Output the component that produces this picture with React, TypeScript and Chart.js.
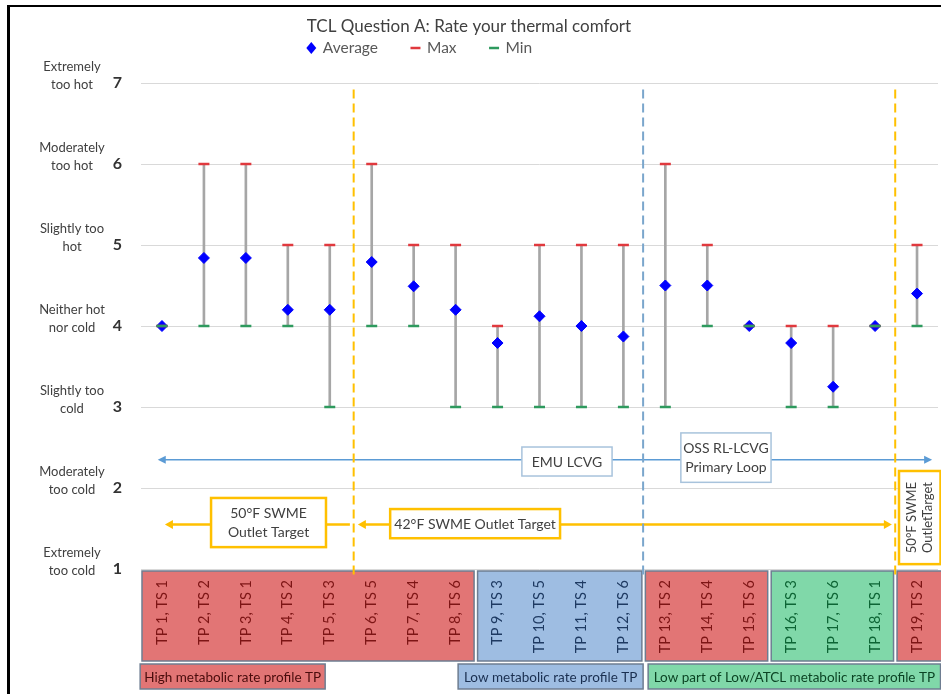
import { useEffect, useRef } from "react";
import { Chart, registerables } from "chart.js";

Chart.register(...registerables);

const FONT = "Lato, 'Noto Sans', 'DejaVu Sans', sans-serif";

const chartTitle = "TCL Question A: Rate your thermal comfort";
const categories = [
  "TP 1, TS 1", "TP 2, TS 2", "TP 3, TS 1", "TP 4, TS 2", "TP 5, TS 3",
  "TP 6, TS 5", "TP 7, TS 4", "TP 8, TS 6", "TP 9, TS 3", "TP 10, TS 5",
  "TP 11, TS 4", "TP 12, TS 6", "TP 13, TS 2", "TP 14, TS 4", "TP 15, TS 6",
  "TP 16, TS 3", "TP 17, TS 6", "TP 18, TS 1", "TP 19, TS 2",
];
const averageValues = [4.0, 4.84, 4.84, 4.2, 4.2, 4.79, 4.49, 4.2, 3.79, 4.12, 4.0, 3.87, 4.5, 4.5, 4.0, 3.79, 3.25, 4.0, 4.4];
const maxValues = [4, 6, 6, 5, 5, 6, 5, 5, 4, 5, 5, 5, 6, 5, 4, 4, 4, 4, 5];
const minValues = [4, 4, 4, 4, 3, 4, 4, 3, 3, 3, 3, 3, 3, 4, 4, 3, 3, 4, 4];
const seriesNames = ["Average", "Max", "Min"];

const yTickValues = [1, 2, 3, 4, 5, 6, 7];
const yTickLabels = [
  ["Extremely", "too cold"],
  ["Moderately", "too cold"],
  ["Slightly too", "cold"],
  ["Neither hot", "nor cold"],
  ["Slightly too", "hot"],
  ["Moderately", "too hot"],
  ["Extremely", "too hot"],
];

// groups of categories shown in coloured boxes under the plot
const groupStarts = [0, 8, 12, 15, 18];
const groupEnds = [7, 11, 14, 17, 18];
const groupKinds = ["high", "low", "high", "lowpart", "high"];

const profileNames = [
  "High metabolic rate profile TP",
  "Low metabolic rate profile TP",
  "Low part of Low/ATCL metabolic rate profile TP",
];
const profileKinds = ["high", "low", "lowpart"];

const annotationTexts = {
  emu: "EMU LCVG",
  oss: ["OSS RL-LCVG", "Primary Loop"],
  swme50: ["50°F SWME", "Outlet Target"],
  swme42: "42°F SWME Outlet Target",
  swme50b: ["50°F SWME", "OutletTarget"],
};

// ---- styling / layout (category index units for x, value units for y) ----
const palette: Record<string, { fill: string; text: string; legend: string }> = {
  high: { fill: "#E27575", text: "#7D1515", legend: "#4A0C0C" },
  low: { fill: "#9EBDE2", text: "#1E3A62", legend: "#1A2F50" },
  lowpart: { fill: "#80D8A9", text: "#0D6535", legend: "#0B4424" },
};
const layout = {
  profileFrom: [-0.52, 7.06, 11.59],
  profileTo: [3.89, 11.47, 18.56],
  dashed: [4.57, 11.47, 17.48],
  dashedColors: ["#FFC000", "#7AA6CC", "#FFC000"],
  lcvgY: 2.35, lcvgFrom: -0.1, lcvgTo: 18.36,
  emuBox: [8.58, 10.73, 2.506, 2.148],
  ossBox: [12.37, 14.52, 2.68, 2.07],
  swmeY: 1.55,
  b50: [1.17, 3.91, 1.877, 1.27], b50Tip: 0.07, b50End: 4.48,
  b42: [5.44, 9.49, 1.74, 1.38], b42Left: 4.67, b42Right: 17.4,
  b50r: [17.57, 18.56, 2.21, 1.06],
};

function arrowHead(ctx: CanvasRenderingContext2D, tipX: number, tipY: number, dir: number, color: string, len: number, half: number) {
  ctx.beginPath();
  ctx.moveTo(tipX, tipY);
  ctx.lineTo(tipX - dir * len, tipY - half);
  ctx.lineTo(tipX - dir * len, tipY + half);
  ctx.closePath();
  ctx.fillStyle = color;
  ctx.fill();
}

function whiteBox(ctx: CanvasRenderingContext2D, x0: number, y0: number, x1: number, y1: number, stroke: string, lw: number) {
  ctx.fillStyle = "#fff";
  ctx.fillRect(x0, y0, x1 - x0, y1 - y0);
  ctx.lineWidth = lw;
  ctx.strokeStyle = stroke;
  ctx.strokeRect(x0, y0, x1 - x0, y1 - y0);
}

function fitFont(ctx: CanvasRenderingContext2D, text: string, size: number, maxW: number) {
  let s = size;
  ctx.font = `${s}px ${FONT}`;
  while (ctx.measureText(text).width > maxW && s > 8) {
    s -= 0.25;
    ctx.font = `${s}px ${FONT}`;
  }
}

const decorPlugin = {
  id: "decor",
  beforeDraw(chart: any) {
    const { ctx, width, height } = chart;
    ctx.save();
    ctx.fillStyle = "#fff";
    ctx.fillRect(0, 0, width, height);
    ctx.fillStyle = "#000";
    ctx.fillRect(7, 5, 3, height - 5);
    ctx.fillRect(7, 5, width - 7, 2);
    ctx.restore();
  },
  afterDraw(chart: any) {
    const { ctx, chartArea, scales } = chart;
    const xs = scales.x;
    const ys = scales.y;
    const px = (v: number) => xs.getPixelForValue(v);
    const py = (v: number) => ys.getPixelForValue(v);
    const bottom = chartArea.bottom;
    ctx.save();

    // descriptive y labels
    ctx.font = `13px ${FONT}`;
    ctx.fillStyle = "#404040";
    ctx.textAlign = "center";
    ctx.textBaseline = "middle";
    yTickValues.forEach((v, i) => {
      const p = py(v);
      ctx.fillText(yTickLabels[i][0], 72, p - 16);
      ctx.fillText(yTickLabels[i][1], 72, p + 2);
    });

    // legend
    const ds = chart.data.datasets;
    ctx.font = `15.5px ${FONT}`;
    const symW = 11, symGap = 6, itemGap = 32;
    const widths = seriesNames.map((n) => symW + symGap + ctx.measureText(n).width);
    const total = widths.reduce((a, b) => a + b, 0) + itemGap * (seriesNames.length - 1);
    let lx = 419 - total / 2;
    const ly = 48;
    seriesNames.forEach((n, i) => {
      const d = ds[i];
      const cx = lx + symW / 2;
      if (d.pointStyle === "rectRot") {
        ctx.beginPath();
        ctx.moveTo(cx, ly - 6);
        ctx.lineTo(cx + 5, ly);
        ctx.lineTo(cx, ly + 6);
        ctx.lineTo(cx - 5, ly);
        ctx.closePath();
        ctx.fillStyle = d.pointBackgroundColor;
        ctx.fill();
      } else {
        ctx.beginPath();
        ctx.moveTo(cx - 5, ly);
        ctx.lineTo(cx + 5, ly);
        ctx.lineWidth = 2.5;
        ctx.strokeStyle = d.pointBorderColor;
        ctx.stroke();
      }
      ctx.fillStyle = "#595959";
      ctx.textAlign = "left";
      ctx.fillText(n, lx + symW + symGap, ly);
      lx += widths[i] + itemGap;
    });

    // category boxes
    const boxTop = bottom + 2;
    const boxBottom = bottom + 92;
    groupStarts.forEach((s, gi) => {
      const e = groupEnds[gi];
      const pal = palette[groupKinds[gi]];
      const x0 = px(s - 0.5) + 1;
      const x1 = gi === groupStarts.length - 1 ? chart.width + 2 : px(e + 0.5) - 2.5;
      ctx.fillStyle = pal.fill;
      ctx.fillRect(x0, boxTop, x1 - x0, boxBottom - boxTop);
      ctx.lineWidth = 1.5;
      ctx.strokeStyle = "#6E7D91";
      ctx.strokeRect(x0, boxTop, x1 - x0, boxBottom - boxTop);
      ctx.font = `14.5px ${FONT}`;
      ctx.fillStyle = pal.text;
      ctx.textBaseline = "middle";
      for (let i = s; i <= e; i++) {
        ctx.save();
        ctx.translate(px(i), bottom + 11);
        ctx.rotate(-Math.PI / 2);
        ctx.textAlign = "right";
        ctx.fillText(categories[i], 0, 0);
        ctx.restore();
      }
    });

    // profile legends
    profileNames.forEach((n, i) => {
      const pal = palette[profileKinds[i]];
      const x0 = px(layout.profileFrom[i]);
      const x1 = px(layout.profileTo[i]);
      const y0 = bottom + 95;
      const y1 = bottom + 120;
      ctx.fillStyle = pal.fill;
      ctx.fillRect(x0, y0, x1 - x0, y1 - y0);
      ctx.lineWidth = 1.5;
      ctx.strokeStyle = "#6E7D91";
      ctx.strokeRect(x0, y0, x1 - x0, y1 - y0);
      fitFont(ctx, n, 13.5, x1 - x0 - 6);
      ctx.fillStyle = pal.legend;
      ctx.textAlign = "center";
      ctx.textBaseline = "middle";
      ctx.fillText(n, (x0 + x1) / 2, (y0 + y1) / 2 + 1);
    });

    // LCVG arrow
    const blue = "#5B9BD5";
    const ly2 = py(layout.lcvgY);
    ctx.beginPath();
    ctx.moveTo(px(layout.lcvgFrom) + 6, ly2);
    ctx.lineTo(px(layout.lcvgTo) - 6, ly2);
    ctx.lineWidth = 1.5;
    ctx.strokeStyle = blue;
    ctx.stroke();
    arrowHead(ctx, px(layout.lcvgFrom), ly2, -1, blue, 8, 4);
    arrowHead(ctx, px(layout.lcvgTo), ly2, 1, blue, 8, 4);

    ctx.font = `14px ${FONT}`;
    ctx.textAlign = "center";
    ctx.textBaseline = "middle";
    {
      const [a, b, c, d] = layout.emuBox;
      whiteBox(ctx, px(a), py(c), px(b), py(d), "#A8C3DC", 1.5);
      ctx.fillStyle = "#404040";
      ctx.fillText(annotationTexts.emu, (px(a) + px(b)) / 2, (py(c) + py(d)) / 2 + 1);
    }
    {
      const [a, b, c, d] = layout.ossBox;
      whiteBox(ctx, px(a), py(c), px(b), py(d), "#A8C3DC", 1.5);
      ctx.fillStyle = "#404040";
      const cx = (px(a) + px(b)) / 2;
      const cy = (py(c) + py(d)) / 2;
      ctx.fillText(annotationTexts.oss[0], cx, cy - 9);
      ctx.fillText(annotationTexts.oss[1], cx, cy + 10);
    }

    // SWME arrows
    const yel = "#FFC000";
    const sy = py(layout.swmeY);
    ctx.lineWidth = 2.5;
    ctx.strokeStyle = yel;
    ctx.beginPath();
    ctx.moveTo(px(layout.b50[0]), sy);
    ctx.lineTo(px(layout.b50Tip) + 6, sy);
    ctx.moveTo(px(layout.b50[1]), sy);
    ctx.lineTo(px(layout.b50End), sy);
    ctx.moveTo(px(layout.b42[0]), sy);
    ctx.lineTo(px(layout.b42Left) + 6, sy);
    ctx.moveTo(px(layout.b42[1]), sy);
    ctx.lineTo(px(layout.b42Right) - 6, sy);
    ctx.stroke();
    arrowHead(ctx, px(layout.b50Tip), sy, -1, yel, 8, 4.5);
    arrowHead(ctx, px(layout.b42Left), sy, -1, yel, 8, 4.5);
    arrowHead(ctx, px(layout.b42Right), sy, 1, yel, 8, 4.5);

    ctx.font = `14px ${FONT}`;
    {
      const [a, b, c, d] = layout.b50;
      whiteBox(ctx, px(a), py(c), px(b), py(d), yel, 2.5);
      ctx.fillStyle = "#404040";
      const cx = (px(a) + px(b)) / 2;
      const cy = (py(c) + py(d)) / 2;
      ctx.fillText(annotationTexts.swme50[0], cx, cy - 9);
      ctx.fillText(annotationTexts.swme50[1], cx, cy + 10);
    }
    {
      const [a, b, c, d] = layout.b42;
      whiteBox(ctx, px(a), py(c), px(b), py(d), yel, 2.5);
      ctx.fillStyle = "#404040";
      ctx.fillText(annotationTexts.swme42, (px(a) + px(b)) / 2, (py(c) + py(d)) / 2 + 1);
    }
    {
      const [a, b, c, d] = layout.b50r;
      whiteBox(ctx, px(a), py(c), px(b), py(d), yel, 2.5);
      ctx.fillStyle = "#404040";
      const cx = (px(a) + px(b)) / 2;
      const cy = (py(c) + py(d)) / 2;
      ctx.save();
      ctx.translate(cx, cy);
      ctx.rotate(-Math.PI / 2);
      ctx.font = `13px ${FONT}`;
      ctx.fillText(annotationTexts.swme50b[0], 0, -8);
      ctx.fillText(annotationTexts.swme50b[1], 0, 8);
      ctx.restore();
    }

    // dashed separators
    ctx.lineWidth = 2;
    layout.dashed.forEach((v, i) => {
      ctx.beginPath();
      ctx.setLineDash([9, 5]);
      ctx.strokeStyle = layout.dashedColors[i];
      ctx.moveTo(px(v), py(6.92));
      ctx.lineTo(px(v), bottom + 6);
      ctx.stroke();
    });
    ctx.setLineDash([]);
    ctx.restore();
  },
};

export default function App() {
  const ref = useRef<HTMLCanvasElement>(null);
  useEffect(() => {
    document.body.style.margin = "0";
    const chart = new Chart(ref.current as HTMLCanvasElement, {
      type: "bar",
      data: {
        labels: categories,
        datasets: [
          {
            type: "line",
            label: seriesNames[0],
            data: averageValues,
            showLine: false,
            pointStyle: "rectRot",
            pointRadius: 5.5,
            pointBackgroundColor: "#0000FF",
            pointBorderColor: "#0000FF",
            pointBorderWidth: 1,
            order: 2,
          } as any,
          {
            type: "line",
            label: seriesNames[1],
            data: maxValues,
            showLine: false,
            pointStyle: "line",
            pointRadius: 5.5,
            pointBorderColor: "#E0393E",
            pointBackgroundColor: "#E0393E",
            pointBorderWidth: 2.5,
            order: 1,
          } as any,
          {
            type: "line",
            label: seriesNames[2],
            data: minValues,
            showLine: false,
            pointStyle: "line",
            pointRadius: 5.5,
            pointBorderColor: "#2E9A5E",
            pointBackgroundColor: "#2E9A5E",
            pointBorderWidth: 2.5,
            order: 0,
          } as any,
          {
            type: "bar",
            label: "Range",
            data: categories.map((_, i) => [minValues[i], maxValues[i]]),
            backgroundColor: "#A6A6A6",
            borderWidth: 0,
            barThickness: 2,
            order: 3,
          } as any,
        ],
      },
      options: {
        animation: false,
        responsive: true,
        maintainAspectRatio: false,
        layout: { autoPadding: false, padding: { top: 0, right: 3, bottom: 125, left: 0 } },
        plugins: {
          legend: { display: false },
          tooltip: { enabled: false },
          title: {
            display: true,
            text: chartTitle,
            color: "#404040",
            font: { family: FONT, size: 17, weight: "normal" },
            padding: { top: 16, bottom: 46.6 },
          },
        },
        scales: {
          x: { type: "category", display: false, offset: true },
          y: {
            min: 1,
            max: 7,
            afterFit: (s: any) => {
              s.width = 141;
            },
            ticks: {
              stepSize: 1,
              padding: 19,
              color: "#333333",
              font: { family: FONT, size: 16, weight: "bold" },
            },
            grid: { color: "#D9D9D9", lineWidth: 1, drawTicks: false },
            border: { display: false },
          },
        },
      },
      plugins: [decorPlugin],
    } as any);
    return () => chart.destroy();
  }, []);
  return (
    <div style={{ position: "absolute", left: 0, top: 0, width: 941, height: 694 }}>
      <canvas ref={ref} />
    </div>
  );
}
